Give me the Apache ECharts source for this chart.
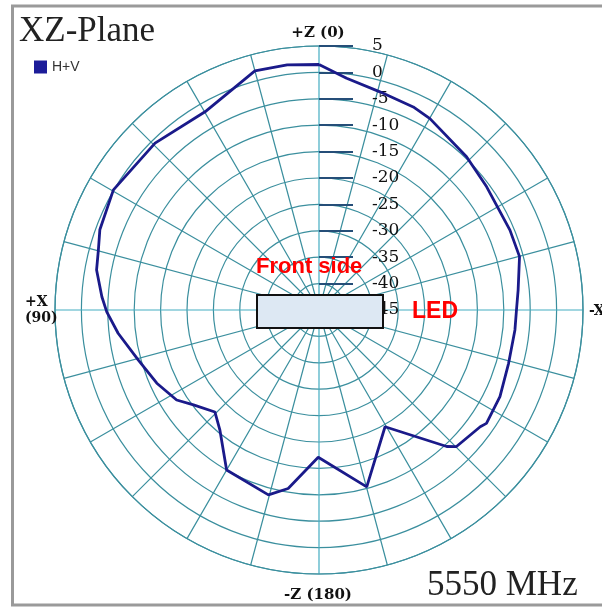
<!DOCTYPE html>
<html>
<head>
<meta charset="utf-8">
<script src="https://cdn.jsdelivr.net/npm/echarts@6/dist/echarts.min.js"></script>
<style>
  html, body { margin: 0; padding: 0; background: #fff; }
  #chart { width: 602px; height: 608px; }
</style>
</head>
<body>
<div id="chart"></div>
<script>
// angle in degrees, counter-clockwise from +Z (top) toward +X (left)
const angles = [0, 7.4, 15, 29.9, 44.5, 59.7, 69.9, 74.8, 79.8, 86.5, 90.5, 96.6, 105.5, 114.3, 122.3, 127.1, 134.4, 140.5, 150, 164.7, 170.2, 179.7, 195.1, 209.5, 223.1, 225.2, 234.1, 235.9, 244.4, 254.3, 264.2, 270, 275.7, 284.9, 292.7, 306.3, 316.1, 329.9, 335.1, 344.4, 353.2, 360];
// H+V gain in dB
const gains = [1.5, 1.8, 1.9, -1.7, -0.7, 0.1, -0.8, -1.7, -2.2, -3.8, -4.8, -6.7, -9.5, -11.3, -13.1, -15.2, -17.4, -15.5, -10.0, -8.7, -10.7, -17.1, -10.3, -19.6, -9.6, -8.3, -7.3, -6.7, -7.0, -7.7, -7.7, -7.6, -7.1, -5.7, -5.8, -5.6, -4.7, -3.1, -2.6, -2.1, -0.8, 1.5];
const radiusMin = -45;
const radiusMax = 5;
const radiusStep = 5;
const seriesName = 'H+V';

const gridColor = '#3b8f9e';
const chart = echarts.init(document.getElementById('chart'));

chart.setOption({
  backgroundColor: '#fff',
  animation: false,
  legend: {
    left: 29,
    top: 55,
    itemWidth: 13,
    itemHeight: 13,
    icon: 'rect',
    data: [seriesName],
    textStyle: { color: '#333', fontSize: 14, fontFamily: 'Liberation Sans' }
  },
  polar: { center: [319, 310], radius: 264 },
  angleAxis: {
    type: 'value',
    min: 0,
    max: 360,
    interval: 15,
    startAngle: 90,
    clockwise: false,
    axisLine: { lineStyle: { color: gridColor, width: 1.2 } },
    axisTick: { show: false },
    axisLabel: { show: false },
    splitLine: {
      lineStyle: { color: ['#45adc2', gridColor, gridColor, gridColor, gridColor, gridColor], width: 1.2 }
    }
  },
  radiusAxis: {
    type: 'value',
    min: radiusMin,
    max: radiusMax,
    interval: radiusStep,
    axisLine: { show: false },
    axisTick: { show: true, length: -34, lineStyle: { color: '#254e78', width: 2 } },
    axisLabel: {
      margin: -53,
      align: 'left',
      color: '#111',
      fontSize: 17,
      fontFamily: 'DejaVu Serif'
    },
    splitLine: { lineStyle: { color: gridColor, width: 1.2 } }
  },
  series: [
    {
      name: seriesName,
      type: 'line',
      coordinateSystem: 'polar',
      showSymbol: false,
      data: gains.map((g, i) => [g, angles[i]]),
      itemStyle: { color: '#1c1c99' },
      lineStyle: { color: '#1a1a8a', width: 2.8 }
    }
  ],
  graphic: [
    {
      type: 'rect', z: 100,
      shape: { x: 12.5, y: 6, width: 640, height: 599 },
      style: { fill: 'none', stroke: '#9a9a9a', lineWidth: 3 }
    },
    {
      type: 'text', z: 100, left: 19, top: 14,
      style: { text: 'XZ-Plane', font: '35px "Liberation Serif"', fill: '#222' }
    },
    {
      type: 'text', z: 100, left: 427, top: 568,
      style: { text: '5550 MHz', font: '35px "Liberation Serif"', fill: '#222' }
    },
    {
      type: 'text', z: 100, x: 318, y: 33,
      style: { text: '+Z (0)', font: 'bold 15px "DejaVu Serif"', fill: '#111', align: 'center', verticalAlign: 'middle' }
    },
    {
      type: 'text', z: 100, x: 318, y: 595,
      style: { text: '-Z (180)', font: 'bold 15px "DejaVu Serif"', fill: '#111', align: 'center', verticalAlign: 'middle' }
    },
    {
      type: 'text', z: 100, x: 25, y: 302,
      style: { text: '+X', font: 'bold 14px "DejaVu Serif"', fill: '#111', verticalAlign: 'middle' }
    },
    {
      type: 'text', z: 100, x: 25, y: 318,
      style: { text: '(90)', font: 'bold 14px "DejaVu Serif"', fill: '#111', verticalAlign: 'middle' }
    },
    {
      type: 'text', z: 100, x: 589, y: 311,
      style: { text: '-X', font: 'bold 14px "DejaVu Serif"', fill: '#111', verticalAlign: 'middle' }
    },
    {
      type: 'rect', z: 100,
      shape: { x: 257, y: 295, width: 126, height: 33 },
      style: { fill: '#dde8f3', stroke: '#111', lineWidth: 2 }
    },
    {
      type: 'text', z: 100, x: 256, y: 267,
      style: { text: 'Front side', font: 'bold 22px "Liberation Sans"', fill: '#ff0000', verticalAlign: 'middle' }
    },
    {
      type: 'text', z: 100, x: 412, y: 312,
      style: { text: 'LED', font: 'bold 23px "Liberation Sans"', fill: '#ff0000', verticalAlign: 'middle' }
    }
  ]
});
</script>
</body>
</html>
